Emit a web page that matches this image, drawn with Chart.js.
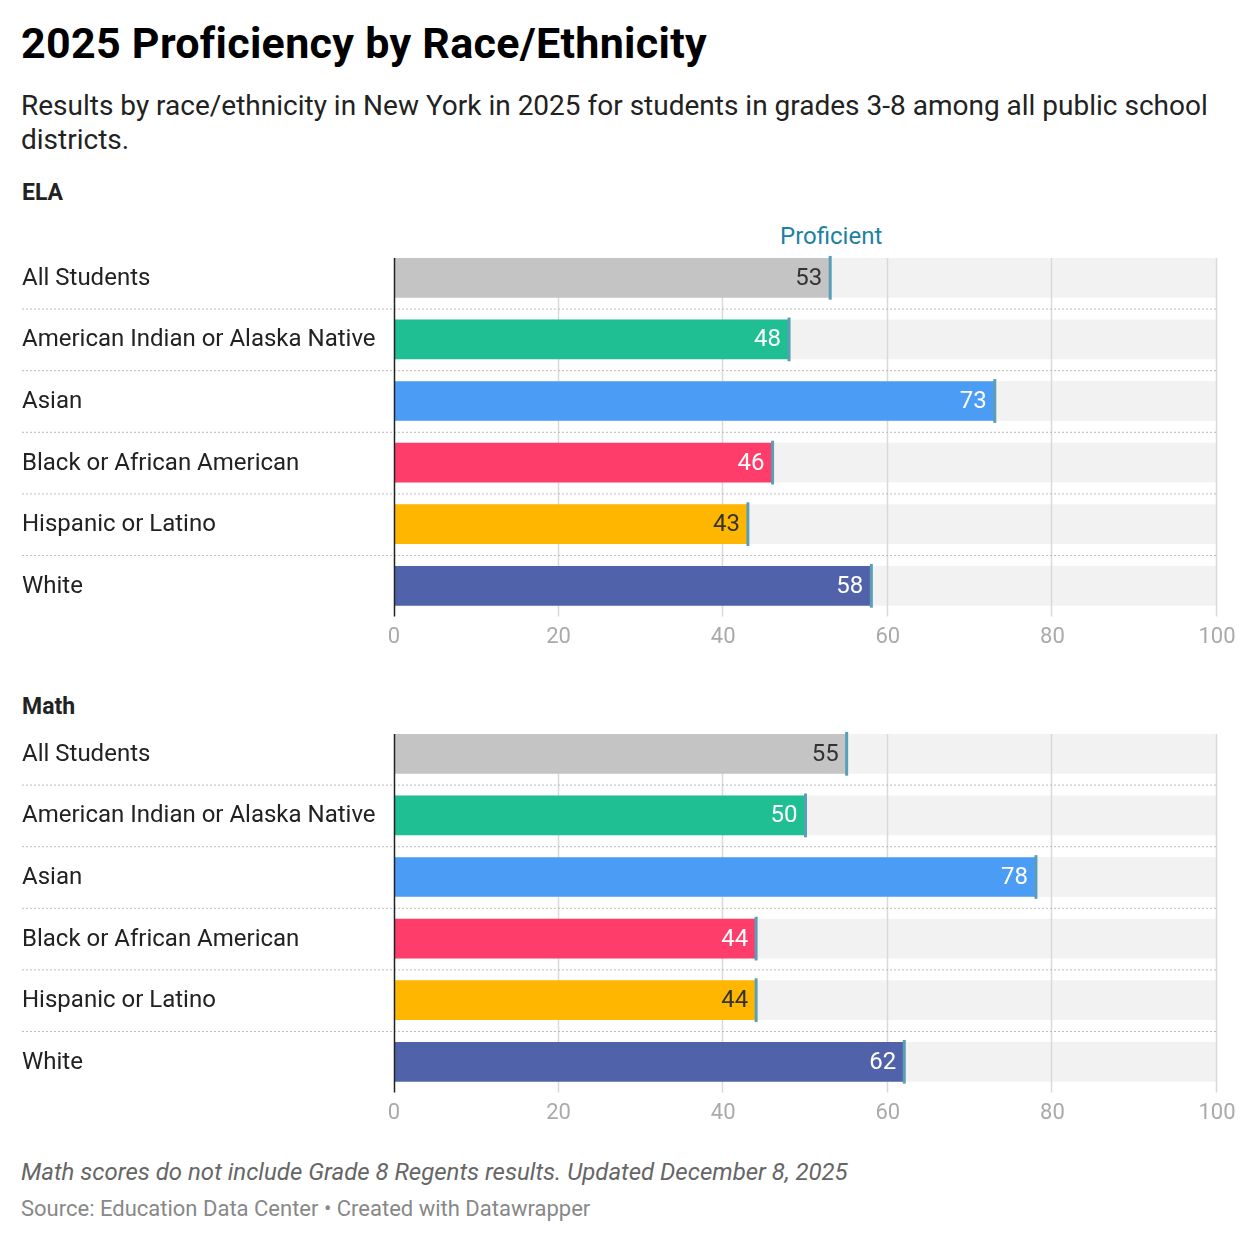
<!DOCTYPE html>
<html><head><meta charset="utf-8">
<script src="https://cdn.jsdelivr.net/npm/chart.js@4"></script>
<style>
body{margin:0;background:#fff;font-family:Roboto,sans-serif;width:1240px;height:1242px;position:relative;overflow:hidden}
.t{position:absolute;left:21px;top:18px;font-size:43px;font-weight:700;color:#000;letter-spacing:0.3px}
.s{position:absolute;left:21px;top:89px;width:1210px;font-size:28px;line-height:34px;color:#222}
.h{position:absolute;left:22px;font-size:23px;font-weight:700;color:#222}
.n{position:absolute;left:21px;top:1158px;font-size:24px;font-style:italic;color:#666}
.src{position:absolute;left:21px;top:1196px;font-size:22px;color:#888}
canvas{position:absolute;left:0}
</style></head><body>
<div class="t">2025 Proficiency by Race/Ethnicity</div>
<div class="s">Results by race/ethnicity in New York in 2025 for students in grades 3-8 among all public school districts.</div>
<div class="h" style="top:179px">ELA</div>
<div class="h" style="top:693px">Math</div>
<div style="position:absolute;left:780px;top:222px;font-size:24px;color:#1d81a2">Proficient</div>
<div id="c1w" style="position:absolute;left:0;top:215px;width:1240px;height:440px"><canvas id="c1"></canvas></div>
<div id="c2w" style="position:absolute;left:0;top:691px;width:1240px;height:440px"><canvas id="c2"></canvas></div>
<div class="n">Math scores do not include Grade 8 Regents results. Updated December 8, 2025</div>
<div class="src">Source: Education Data Center • Created with Datawrapper</div>
<script>
const groups = ['All Students','American Indian or Alaska Native','Asian','Black or African American','Hispanic or Latino','White'];
const elaValues = [53,48,73,46,43,58];
const mathValues = [55,50,78,44,44,62];
const xTicks = [0,20,40,60,80,100];
const barColors = ['#c4c4c4','#1fbf93','#4b9cf4','#ff3d6a','#ffb600','#5063aa'];
const darkText = [true,false,false,false,true,false];

const deco = {
  id:'deco',
  beforeDatasetsDraw(chart){
    const {ctx, chartArea:a, scales:{x,y}} = chart;
    const meta = chart.getDatasetMeta(0);
    ctx.save();
    meta.data.forEach(b=>{
      ctx.fillStyle='#f2f2f2';
      ctx.fillRect(a.left, b.y-b.height/2, x.getPixelForValue(100)-a.left, b.height);
    });
    ctx.strokeStyle='#d9d9d9'; ctx.lineWidth=1.5;
    const top = meta.data[0].y - meta.data[0].height/2;
    xTicks.slice(1).forEach(v=>{
      const px=Math.round(x.getPixelForValue(v))-0.5;
      ctx.beginPath(); ctx.moveTo(px,top); ctx.lineTo(px,a.bottom); ctx.stroke();
    });
    ctx.restore();
  },
  afterDatasetsDraw(chart){
    const {ctx, chartArea:a, scales:{x,y}} = chart;
    const meta = chart.getDatasetMeta(0);
    const vals = chart.data.datasets[0].data;
    ctx.save();
    ctx.font='24px Roboto';
    meta.data.forEach((b,i)=>{
      const end = x.getPixelForValue(vals[i]);
      ctx.fillStyle = darkText[i] ? '#333' : '#fff';
      ctx.textAlign='right'; ctx.textBaseline='middle';
      ctx.fillText(String(vals[i]), end-8, b.y+1);
      ctx.fillStyle='#5a9fb5';
      ctx.fillRect(end-1.5, b.y-b.height/2-2, 3, b.height+4);
      ctx.fillStyle='#222'; ctx.textAlign='left';
      ctx.fillText(groups[i], 22, b.y+1);
      if(i>0){
        const sy = b.y - (b.y - meta.data[i-1].y)/2;
        ctx.strokeStyle='#bbb'; ctx.lineWidth=1; ctx.setLineDash([2,2]);
        ctx.beginPath(); ctx.moveTo(22,sy+0.5); ctx.lineTo(x.getPixelForValue(100),sy+0.5); ctx.stroke();
        ctx.setLineDash([]);
      }
    });
    const top = meta.data[0].y - meta.data[0].height/2;
    ctx.strokeStyle='#222'; ctx.lineWidth=1.5;
    ctx.beginPath(); ctx.moveTo(a.left+0.5,top); ctx.lineTo(a.left+0.5,a.bottom); ctx.stroke();
    ctx.restore();
  }
};

function make(id, values){
  return new Chart(document.getElementById(id), {
    type:'bar',
    data:{labels:groups, datasets:[{data:values, backgroundColor:barColors, barPercentage:1, categoryPercentage:40/62}]},
    options:{
      indexAxis:'y', responsive:true, maintainAspectRatio:false, animation:false,
      layout:{padding:{left:394,right:23,top:32,bottom:4}},
      plugins:{legend:{display:false},tooltip:{enabled:false}},
      scales:{
        x:{min:0,max:100,grid:{display:false},border:{display:false},
           ticks:{stepSize:20,color:'#aaa',font:{family:'Roboto',size:22},padding:0,
             align:'center'}},
        y:{display:false}
      }
    },
    plugins:[deco]
  });
}
make('c1', elaValues);
make('c2', mathValues);
</script>
</body></html>
